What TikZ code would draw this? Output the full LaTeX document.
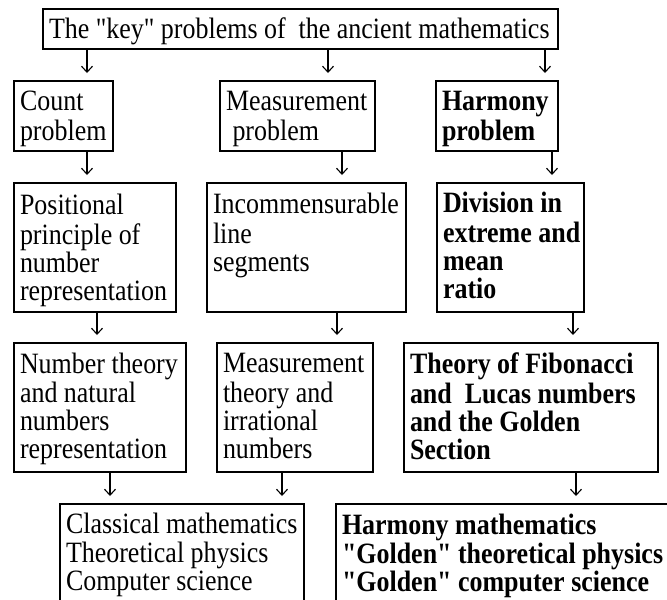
\documentclass[tikz,border=0pt]{standalone}
\usepackage{fontspec}
\setmainfont{Liberation Serif}[Ligatures=TeXOff, FakeStretch=0.88]
\usetikzlibrary{arrows.meta}
\tikzset{
  box/.style={draw, line width=1.1pt, inner sep=0pt, outer sep=0pt, anchor=north west},
  arr/.style={line width=1.1pt, -{Straight Barb[length=6pt,width=11pt]}, shorten >=8pt}
}
% name, left, top, right, bottom, gap, font command, text
\newcommand{\bxnode}[8]{%
  \node[box] (#1) at (#2,-#3) {\parbox[c][\dimexpr #5pt-#3pt\relax][t]{\dimexpr #4pt-#2pt\relax}{%
    \fontsize{29.5pt}{28pt}\selectfont\vspace*{#6pt}\raggedright\leftskip=6pt\relax#7\strut #8}};}
\begin{document}
\begin{tikzpicture}[x=1pt,y=1pt]
\path[use as bounding box, fill=white] (0,0) rectangle (667,-600);
\clip (0,0) rectangle (667,-600);

\bxnode{top}{43}{9}{558}{49}{8.4}{}{The "key" problems of\ \ the ancient mathematics}

\bxnode{count}{14}{81}{113}{151}{9.6}{}{Count\\problem}
\bxnode{meas}{220}{81}{375}{151}{9.6}{}{Measurement\\\hspace*{6.5pt}problem}
\bxnode{harm}{436}{81}{558}{151}{9.6}{\bfseries}{Harmony\\problem}

\bxnode{pos}{14}{183}{176}{312}{11}{}{Positional\\principle of\\number\\representation}
\bxnode{inc}{207}{183}{406}{312}{10}{}{Incommensurable\\line\\segments}
\bxnode{div}{437}{183}{584}{312}{9}{\bfseries}{Division in\\extreme and\\mean\\ratio}

\bxnode{num}{14}{343}{186}{472}{9.6}{}{Number theory\\and natural\\numbers\\representation}
\bxnode{mth}{217}{343}{373}{472}{9.6}{}{Measurement\\theory and\\irrational\\numbers}
\bxnode{fib}{404}{343}{658}{472}{10}{\bfseries}{Theory of Fibonacci\\and\ \ Lucas numbers\\and the Golden\\Section}

\bxnode{cls}{60}{504}{304}{610}{8.6}{}{Classical mathematics\\Theoretical physics\\Computer science}
\bxnode{hm}{336}{504}{680}{610}{9.6}{\bfseries}{Harmony mathematics\\"Golden" theoretical physics\\"Golden" computer science}

\draw[arr] (top.south -| 87,0) -- (count.north -| 87,0);
\draw[arr] (top.south -| 328,0) -- (meas.north -| 328,0);
\draw[arr] (top.south -| 545,0) -- (harm.north -| 545,0);

\draw[arr] (count.south -| 87,0) -- (pos.north -| 87,0);
\draw[arr] (meas.south -| 342,0) -- (inc.north -| 342,0);
\draw[arr] (harm.south -| 552,0) -- (div.north -| 552,0);

\draw[arr] (pos.south -| 97,0) -- (num.north -| 97,0);
\draw[arr] (inc.south -| 337,0) -- (mth.north -| 337,0);
\draw[arr] (div.south -| 573,0) -- (fib.north -| 573,0);

\draw[arr] (num.south -| 110,0) -- (cls.north -| 110,0);
\draw[arr] (mth.south -| 282,0) -- (cls.north -| 282,0);
\draw[arr] (fib.south -| 576,0) -- (hm.north -| 576,0);
\end{tikzpicture}
\end{document}
